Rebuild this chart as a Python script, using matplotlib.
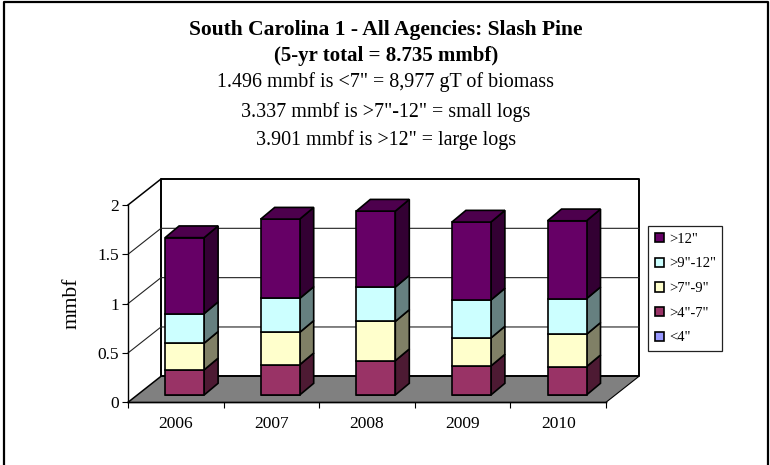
import numpy as np
import matplotlib
matplotlib.use('Agg')
import matplotlib.pyplot as plt

plt.rcParams['font.family'] = ['Liberation Serif', 'DejaVu Serif']

years = ['2006', '2007', '2008', '2009', '2010']
under4 = [0, 0, 0, 0, 0]
s4_7 = [0.255, 0.307, 0.348, 0.294, 0.287]
s7_9 = [0.27, 0.328, 0.398, 0.284, 0.328]
s9_12 = [0.30, 0.344, 0.348, 0.385, 0.361]
over12 = [0.77, 0.804, 0.77, 0.79, 0.79]

series = [under4, s4_7, s7_9, s9_12, over12]
names = ['<4"', '>4"-7"', '>7"-9"', '>9"-12"', '>12"']
colors = ['#9999ff', '#993366', '#ffffcc', '#ccffff', '#660066']
side_colors = ['#4d4d80', '#4d1a33', '#808066', '#668080', '#330033']
top_color = '#4d004d'

W, H = 770, 465
fig = plt.figure(figsize=(W / 100, H / 100), dpi=100)

# front plane of the fake 3d box
ax = fig.add_axes([128 / W, (H - 402.3) / H, 478 / W, 197.3 / H])
ax.set_xlim(0, 5)
ax.set_ylim(0, 2)
px_x = 5 / 478
px_y = 2 / 197.3
dx, dy = 33 * px_x, 26 * px_y
bar_w = 39 * px_x
bar_dx, bar_dy = 14 * px_x, 11.7 * px_y
lift_x, lift_y = 8.8 * px_x, 7.3 * px_y

for s in ['top', 'right']:
    ax.spines[s].set_visible(False)
ax.spines['left'].set_linewidth(1)
ax.spines['bottom'].set_linewidth(1)
ax.patch.set_visible(False)

# floor and walls
ax.fill([0, 5, 5 + dx, dx], [0, 0, dy, dy], color='#808080', lw=0, zorder=1, clip_on=False)
ax.plot([dx, dx, 5 + dx, 5 + dx, dx], [dy, 2 + dy, 2 + dy, dy, dy], color='k', lw=1.4, zorder=2, clip_on=False)
ax.plot([0, dx], [2, 2 + dy], color='k', lw=1.1, zorder=2, clip_on=False)
ax.plot([0, dx], [0, dy], color='k', lw=1.1, zorder=2, clip_on=False)
ax.plot([5, 5 + dx], [0, dy], color='k', lw=0.8, zorder=2, clip_on=False)
ax.plot([0, 5], [0, 0], color='k', lw=1, zorder=2, clip_on=False)
for v in [0.5, 1, 1.5]:
    ax.plot([0, dx, 5 + dx], [v, v + dy, v + dy], color='#222222', lw=0.8, zorder=2, clip_on=False)

xs = np.arange(5) + 0.5 + lift_x
bottom = np.zeros(5) + lift_y
handles = []
for k, vals in enumerate(series):
    vals = np.array(vals)
    z = 3 + k
    bars = ax.bar(xs, vals, bar_w, bottom=bottom, color=colors[k], edgecolor='k', lw=1.2,
                  label=names[k], zorder=z + 0.5, clip_on=False)
    handles.append(bars)
    for x, b, v in zip(xs, bottom, vals):
        if v == 0:
            continue
        r = x + bar_w / 2
        ax.fill([r, r + bar_dx, r + bar_dx, r], [b, b + bar_dy, b + v + bar_dy, b + v],
                facecolor=side_colors[k], edgecolor='k', lw=1.2, zorder=z, clip_on=False)
    bottom = bottom + vals

for x, t in zip(xs, bottom):
    l = x - bar_w / 2
    r = x + bar_w / 2
    ax.fill([l, r, r + bar_dx, l + bar_dx], [t, t, t + bar_dy, t + bar_dy],
            facecolor=top_color, edgecolor='k', lw=1.2, zorder=9, clip_on=False)

ax.set_xticks(np.arange(6))
ax.set_xticklabels([])
ax.set_xticks(np.arange(5) + 0.5, minor=True)
ax.set_xticklabels(years, minor=True, fontsize=12.5)
ax.tick_params(axis='x', which='minor', length=0, pad=10)
ax.tick_params(axis='x', which='major', length=4, width=0.8)
ax.set_yticks([0, 0.5, 1, 1.5, 2])
ax.set_yticklabels(['0', '0.5', '1', '1.5', '2'], fontsize=12.5)
ax.tick_params(axis='y', length=4, width=0.8, pad=2.5)
fig.text(72 / W, 1 - 303 / H, 'mmbf', rotation=90, fontsize=15.5, ha='center', va='center')

leg = ax.legend(handles[::-1], names[::-1], loc='lower left', bbox_to_anchor=(648 / W, (H - 351) / H),
                bbox_transform=fig.transFigure, borderaxespad=0, fontsize=10.5, fancybox=False,
                framealpha=1, edgecolor='#222222', handlelength=0.62, handleheight=0.62,
                handletextpad=0.36, labelspacing=0.8, borderpad=0.45)
leg.get_frame().set_linewidth(0.9)
leg.set_zorder(20)

# title block
fig.text(386 / W, 1 - 30 / H, 'South Carolina 1 - All Agencies: Slash Pine', fontsize=15.5, weight='bold',
         ha='center', va='center')
fig.text(386 / W, 1 - 56 / H, '(5-yr total = 8.735 mmbf)', fontsize=15, weight='bold', ha='center', va='center')
fig.text(386 / W, 1 - 82 / H, '1.496 mmbf is <7" = 8,977 gT of biomass', fontsize=14.4, ha='center', va='center')
fig.text(386 / W, 1 - 112 / H, '3.337 mmbf is >7"-12" = small logs', fontsize=14.4, ha='center', va='center')
fig.text(386 / W, 1 - 140 / H, '3.901 mmbf is >12" = large logs', fontsize=14.4, ha='center', va='center')

# outer frame, no bottom line in the original
fig.add_artist(plt.Line2D([3.5 / W, 3.5 / W, 768 / W, 768 / W], [0, 1 - 2.5 / H, 1 - 2.5 / H, 0], color='k', lw=1.6))

fig.savefig('out.png', dpi=100)
